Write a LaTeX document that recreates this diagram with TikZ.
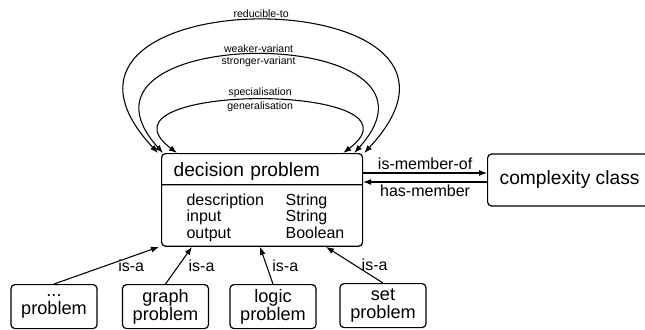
\documentclass[tikz,border=0pt]{standalone}
\usepackage{fontspec}
\setmainfont{Liberation Sans}
\usetikzlibrary{arrows.meta, calc, shapes.multipart}
\tikzset{
    box/.style={draw, rounded corners=3pt, line width=0.9pt, inner sep=2pt,
        font=\fontsize{14.4}{12.5}\selectfont},
    leaf/.style={box, align=center, minimum width=64.5pt, minimum height=33pt, anchor=north,
        font=\fontsize{13.6}{13.2}\selectfont},
    assoc/.style={line width=0.8pt, -{Latex[length=6pt,width=4.5pt]}},
    bassoc/.style={line width=0.8pt, {Latex[length=6pt,width=4.5pt]}-{Latex[length=6pt,width=4.5pt]}},
    rolel/.style={font=\fontsize{7.9}{9}\selectfont, inner sep=1.5pt},
    lbl/.style={font=\fontsize{12}{14}\selectfont, inner sep=2pt}
}
\begin{document}
\begin{tikzpicture}[x=0.75pt, y=-0.75pt]
    \useasboundingbox (0,0) rectangle (645,329);
    % classes
    \node[box, rectangle split, rectangle split parts=2, rectangle split part align=left,
        text width=132.75pt, inner xsep=9pt, anchor=north west] (dp) at (161,153)
        {\rule[-4pt]{0pt}{18.5pt}decision problem
         \nodepart{two}\fontsize{12}{12}\selectfont\hspace*{9.75pt}%
         \begin{tabular}{@{}p{74.25pt}@{}l@{}}
            \rule{0pt}{13pt}description & String\\
            input & String\\
            output & Boolean
         \end{tabular}};
    \node[box, minimum width=123pt, minimum height=39pt, anchor=west] (cc) at (487,180) {complexity class};
    \node[leaf] (xp) at (54,284) {...\\problem};
    \node[leaf] (gp) at (165.5,284) {graph\\problem};
    \node[leaf] (lp) at (273,284) {logic\\problem};
    \node[leaf] (sp) at (383,283) {set\\problem};
    % self associations
    \coordinate (ro1) at ($(dp.north west)+(-3,0)$);
    \coordinate (ro2) at ($(dp.north east)+(1,0)$);
    \coordinate (wv1) at ($(dp.north west)+(2,0)$);
    \coordinate (wv2) at ($(dp.north east)+(-9,0)$);
    \coordinate (sg1) at ($(dp.north west)+(16,0)$);
    \coordinate (sg2) at ($(dp.north east)+(-20,0)$);
    \draw[bassoc] (ro1) .. controls +(-165,-177) and +(165,-177) .. (ro2)
        node[rolel, above, pos=0.5] {reducible-to};
    \draw[bassoc] (wv1) .. controls +(-118,-131) and +(118,-131) .. (wv2)
        node[rolel, above, pos=0.5] {weaker-variant}
        node[rolel, below, pos=0.5] {stronger-variant};
    \draw[bassoc] (sg1) .. controls +(-94,-71) and +(94,-71) .. (sg2)
        node[rolel, above, pos=0.5] {specialisation}
        node[rolel, below, pos=0.5] {generalisation};
    % membership
    \coordinate (mo) at ($(cc.west)+(0,-7)$);
    \coordinate (hm) at ($(cc.west)+(0,2)$);
    \draw[assoc] (dp.east |- mo) -- (mo) node[lbl, midway, above] {is-member-of};
    \draw[assoc] (hm) -- (dp.east |- hm) node[lbl, midway, below] {has-member};
    % is-a
    \foreach \b/\dx/\sh in {xp/-2/6.5pt, gp/31/5pt, lp/99/2pt, sp/165/3pt}{
        \draw[assoc] (\b.north) -- ($(dp.south west)+(\dx,0)$)
            node[lbl, midway, right, xshift=\sh] {is-a};
    }
\end{tikzpicture}
\end{document}
